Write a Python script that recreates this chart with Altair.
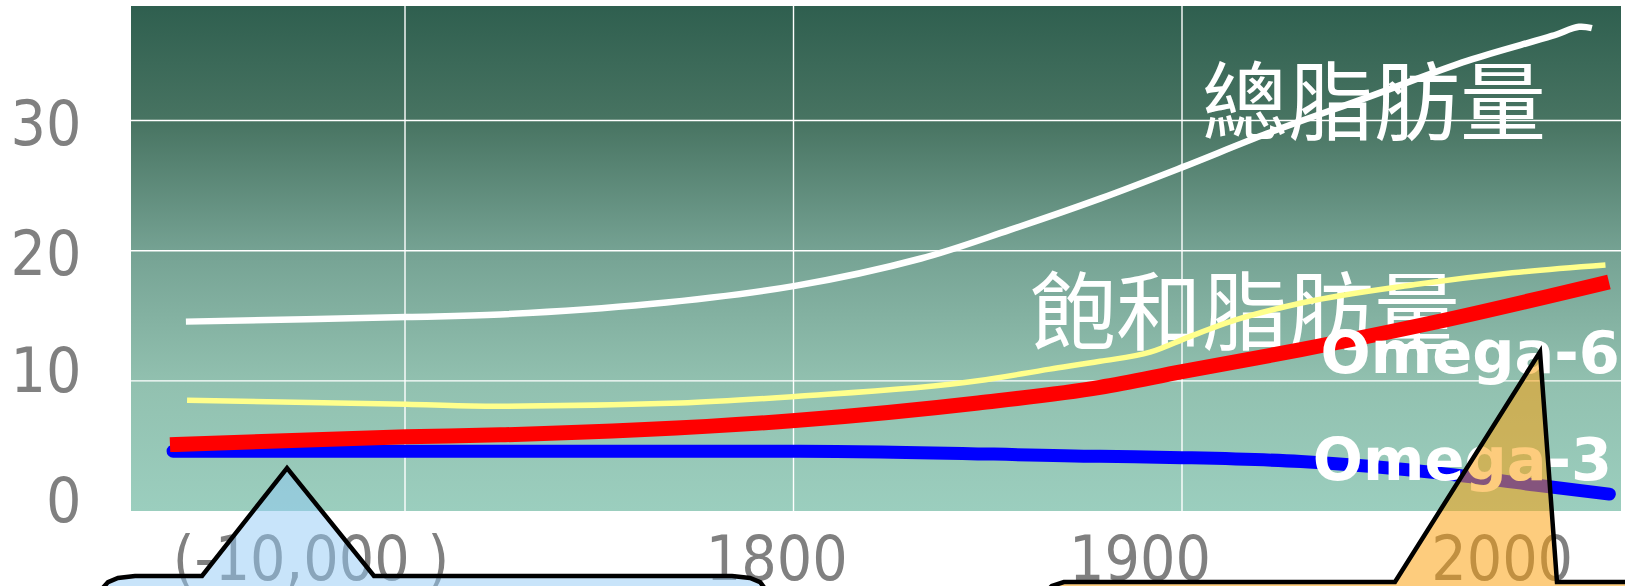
import altair as alt
import pandas as pd

# ---------------- data ----------------
# x is a period-position scale: vertical gridlines sit at 1, 2, 3
T_MIN, T_MAX = 0.2947, 4.13
Y_MAX = 38.8

TOTAL_T = [0.436, 1.003, 1.245, 1.631, 2.004, 2.328, 2.557, 2.789, 3.0, 3.219, 3.479, 3.736, 3.952, 4.022, 4.055]
TOTAL_V = [14.55, 14.9, 15.1, 15.9, 17.3, 19.4, 21.6, 24.0, 26.4, 29.0, 31.8, 34.6, 36.5, 37.2, 37.1]

SAT_T = [0.439, 1.003, 1.208, 1.708, 2.004, 2.475, 2.660, 2.789, 2.918, 3.02, 3.14, 3.31, 3.60, 3.85, 4.09]
SAT_V = [8.5, 8.2, 8.05, 8.3, 8.8, 10.0, 10.9, 11.5, 12.2, 13.4, 14.7, 16.0, 17.4, 18.3, 18.9]

O6_T = [0.395, 1.003, 1.245, 2.004, 2.475, 2.789, 3.0, 3.306, 3.651, 4.099]
O6_V = [5.1, 5.7, 5.85, 6.95, 8.3, 9.5, 10.7, 12.4, 14.5, 17.6]

O3_T = [0.403, 1.003, 2.017, 2.789, 3.0, 3.306, 3.651, 3.909, 4.1]
O3_V = [4.6, 4.6, 4.6, 4.2, 4.1, 3.8, 2.95, 2.0, 1.3]

GRID_X = [1, 2, 3]
GRID_Y = [10, 20, 30]
Y_TICKS = [0, 10, 20, 30]

X_LABELS = ["(-10,000 )", "1800", "1900", "2000"]
X_LABEL_T = [0.758, 1.957, 2.892, 3.824]
X_LABEL_V = -5.3

CN_LABELS = ["總脂肪量", "飽和脂肪量"]
CN_T = [3.494, 3.162]
CN_V = [28.97, 12.83]

OMEGA_LABELS = ["Omega-6", "Omega-3"]
OMEGA_T = [4.127, 4.107]
OMEGA_V = [10.6, 2.38]

# callout outlines (top edge), in the chart's own units
LEFT_BUBBLE_T = [0.2098, 0.2175, 0.2355, 0.2612, 0.3050, 0.4775, 0.6963, 0.9202, 1.8417, 1.888, 1.914, 1.929, 1.934]
LEFT_BUBBLE_V = [-7, -6.07, -5.46, -5.15, -4.99, -4.99, 3.30, -4.99, -4.99, -5.15, -5.46, -6.07, -7]
RIGHT_BUBBLE_T = [2.6396, 2.650, 2.665, 2.696, 3.5482, 3.9215, 3.9652, 4.18]
RIGHT_BUBBLE_V = [-7, -6.22, -5.76, -5.46, -5.46, 12.22, -5.46, -5.46]
BUBBLE_BOTTOM = -7

# ---------------- build ----------------
LABEL_FONT = "DejaVu Sans Condensed, Liberation Sans Narrow, DejaVu Sans, sans-serif"

xs = alt.Scale(domain=[T_MIN, T_MAX], nice=False, zero=False)
ys = alt.Scale(domain=[0, Y_MAX], nice=False, zero=False)

def series(t, v):
    return pd.DataFrame({"t": t, "v": v})

bg = alt.Chart(pd.DataFrame({"x": [T_MIN], "x2": [T_MAX], "y": [0], "y2": [Y_MAX]})).mark_rect(
    color=alt.LinearGradient(
        gradient="linear", x1=0, x2=0, y1=0, y2=1,
        stops=[
            alt.GradientStop(offset=0, color="#2f5f4f"),
            alt.GradientStop(offset=0.23, color="#487462"),
            alt.GradientStop(offset=0.49, color="#76a394"),
            alt.GradientStop(offset=0.75, color="#92c1b0"),
            alt.GradientStop(offset=1, color="#9bcebe"),
        ],
    )
).encode(
    x=alt.X("x:Q", scale=xs, axis=None),
    x2="x2:Q",
    y=alt.Y("y:Q", scale=ys, axis=alt.Axis(
        values=Y_TICKS, domain=False, ticks=False, grid=False, title=None,
        labelFontSize=62, labelColor="#808080", labelFont=LABEL_FONT, labelPadding=50,
        labelOffset={"condition": {"test": "datum.value >= 20", "value": 5}, "value": -8.5},
    )),
    y2="y2:Q",
)

grid_v = alt.Chart(pd.DataFrame({"t": GRID_X})).mark_rule(color="white", strokeWidth=1.4).encode(
    x=alt.X("t:Q", scale=xs)
)
grid_h = alt.Chart(pd.DataFrame({"v": GRID_Y})).mark_rule(color="white", strokeWidth=1.4).encode(
    y=alt.Y("v:Q", scale=ys)
)

cn_text = alt.Chart(pd.DataFrame({"t": CN_T, "v": CN_V, "s": CN_LABELS})).mark_text(
    font="Noto Sans CJK TC", fontSize=86, color="white", align="center", baseline="alphabetic"
).encode(x=alt.X("t:Q", scale=xs), y=alt.Y("v:Q", scale=ys), text="s:N")

def line(t, v, color, width, cap="butt", interp="monotone"):
    return alt.Chart(series(t, v)).mark_line(
        color=color, strokeWidth=width, interpolate=interp, strokeCap=cap, strokeJoin="round"
    ).encode(x=alt.X("t:Q", scale=xs), y=alt.Y("v:Q", scale=ys))

blue = line(O3_T, O3_V, "#0000ff", 13, "round")
red = line(O6_T, O6_V, "#ff0000", 15)
yellow = line(SAT_T, SAT_V, "#ffff8c", 5.5)
white = line(TOTAL_T, TOTAL_V, "#ffffff", 6.5, interp="catmull-rom")

omega_text = alt.Chart(pd.DataFrame({"t": OMEGA_T, "v": OMEGA_V, "s": OMEGA_LABELS})).mark_text(
    font="DejaVu Sans", fontWeight="bold", fontSize=59, color="white", align="right", baseline="alphabetic"
).encode(x=alt.X("t:Q", scale=xs), y=alt.Y("v:Q", scale=ys), text="s:N")

x_text = alt.Chart(pd.DataFrame({"t": X_LABEL_T, "s": X_LABELS, "v": [X_LABEL_V] * len(X_LABELS)})).mark_text(
    font=LABEL_FONT, fontSize=62, color="#808080", align="center", baseline="alphabetic"
).encode(x=alt.X("t:Q", scale=xs), y=alt.Y("v:Q", scale=ys), text="s:N")

def bubble(t, v, fill, opacity):
    df = pd.DataFrame({"t": t, "v": v, "b": [BUBBLE_BOTTOM] * len(t)})
    return alt.Chart(df).mark_area(
        fill=fill, fillOpacity=opacity, stroke="black", strokeWidth=4.5, strokeJoin="miter",
        interpolate="linear"
    ).encode(x=alt.X("t:Q", scale=xs), y=alt.Y("v:Q", scale=ys), y2="b:Q")

left_bubble = bubble(LEFT_BUBBLE_T, LEFT_BUBBLE_V, "#91c9f5", 0.5)
right_bubble = bubble(RIGHT_BUBBLE_T, RIGHT_BUBBLE_V, "#fb9e0a", 0.53)

chart = alt.layer(
    bg, grid_v, grid_h, cn_text, blue, red, yellow, white, omega_text, x_text, left_bubble, right_bubble
).properties(
    width=1490, height=505,
    autosize=alt.AutoSizeParams(type="none"),
    padding={"left": 131, "top": 6, "right": 4, "bottom": 75},
    background="white",
).configure_view(stroke=None)

chart.save("out.html", embed_options={"renderer": "svg", "actions": False})
